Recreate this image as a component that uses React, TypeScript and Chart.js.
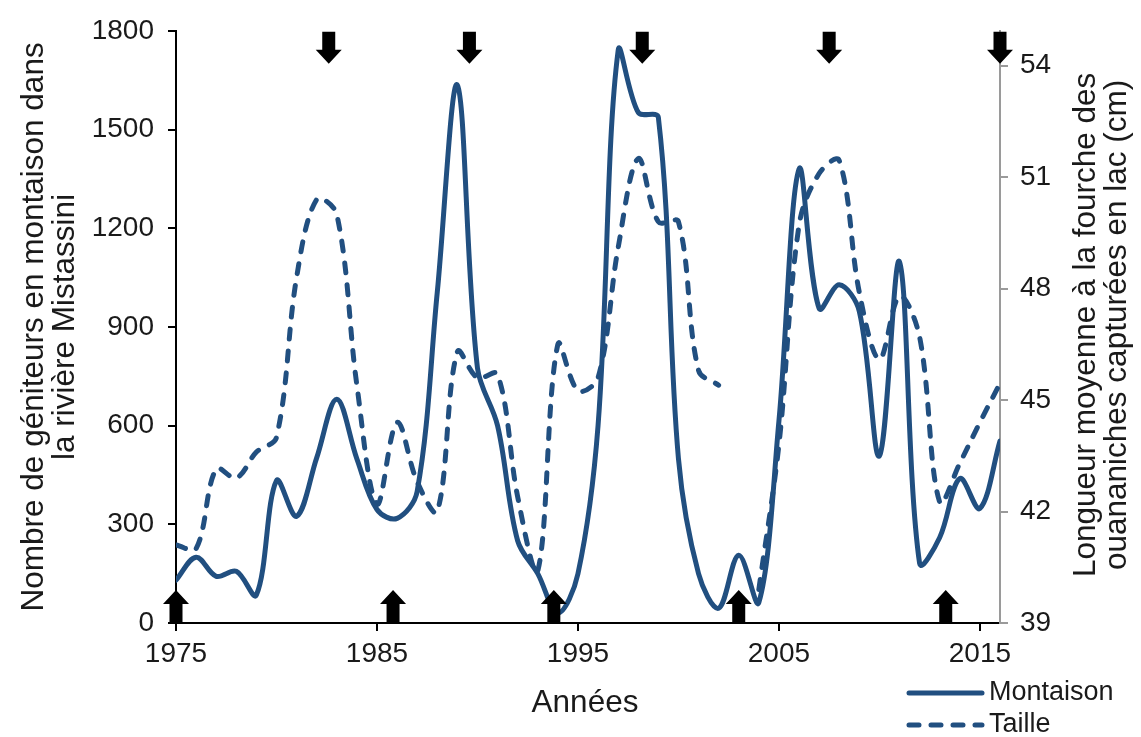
import React, { useEffect, useRef } from 'react';
import { Chart, registerables } from 'chart.js';

Chart.register(...registerables);

// ---------- data ----------
const years = [
  1975, 1976, 1977, 1978, 1979, 1980, 1981, 1982, 1983, 1984,
  1985, 1986, 1987, 1988, 1989, 1990, 1991, 1992, 1993, 1994,
  1995, 1996, 1997, 1998, 1999, 2000, 2001, 2002, 2003, 2004,
  2005, 2006, 2007, 2008, 2009, 2010, 2011, 2012, 2013, 2014,
  2015, 2016,
];

const montaison = [
  130, 200, 142, 157, 85, 433, 324, 502, 680, 499,
  345, 318, 400, 1005, 1635, 775, 600, 250, 150, 30,
  150, 600, 1740, 1552, 1537, 500, 150, 45, 206, 62,
  614, 1380, 956, 1028, 947, 508, 1098, 181, 260, 439,
  348, 553,
];

const taille = [
  41.1, 41.0, 43.15, 42.9, 43.6, 44.0, 48.3, 50.4, 50.0, 45.4,
  42.2, 44.4, 42.8, 42.0, 46.3, 45.6, 45.7, 42.4, 40.4, 46.5,
  45.25, 45.6, 49.1, 51.5, 49.8, 49.8, 45.8, 45.4, null, 39.9,
  43.8, 49.7, 51.1, 51.45, 47.9, 46.1, 47.8, 46.7, 42.25, 43.3,
  44.4, 45.45,
];

const xTickYears = [1975, 1985, 1995, 2005, 2015];
const leftTicks = [0, 300, 600, 900, 1200, 1500, 1800];
const rightTicks = [39, 42, 45, 48, 51, 54];
const upArrowYears = [1975, 1985.8, 1993.8, 2003, 2013.3];
const downArrowYears = [1982.6, 1989.6, 1998.2, 2007.5, 2016];

const seriesNames = ['Montaison', 'Taille'];
const leftTitle = ['Nombre de géniteurs en montaison dans', 'la rivière Mistassini'];
const rightTitle = ['Longueur moyenne à la fourche des', 'ouananiches capturées en lac (cm)'];
const xTitle = 'Années';

// ---------- styles ----------
const LINE_COLOR = '#214F80';
const TEXT_COLOR = '#1a1a1a';
const FONT = '"Liberation Sans", Arial, sans-serif';
const DASH = [10, 12];

function drawArrow(ctx: CanvasRenderingContext2D, x: number, base: number, dir: 1 | -1) {
  // dir = -1 : pointing up (base at bottom), dir = 1 : pointing down (base at top)
  const shaftW = 13;
  const shaftL = 18;
  const headW = 26;
  const headL = 14;
  ctx.beginPath();
  ctx.moveTo(x - shaftW / 2, base);
  ctx.lineTo(x - shaftW / 2, base + dir * shaftL);
  ctx.lineTo(x - headW / 2, base + dir * shaftL);
  ctx.lineTo(x, base + dir * (shaftL + headL));
  ctx.lineTo(x + headW / 2, base + dir * shaftL);
  ctx.lineTo(x + shaftW / 2, base + dir * shaftL);
  ctx.lineTo(x + shaftW / 2, base);
  ctx.closePath();
  ctx.fill();
}

const decorPlugin = {
  id: 'decor',
  afterDatasetsDraw(chart: any) {
    const { ctx, chartArea, scales } = chart;
    const xs = scales.x;
    ctx.save();
    ctx.fillStyle = '#000';
    upArrowYears.forEach((yr) => drawArrow(ctx, xs.getPixelForValue(yr), chartArea.bottom - 1, -1));
    downArrowYears.forEach((yr) => drawArrow(ctx, xs.getPixelForValue(yr), chartArea.top + 1, 1));
    ctx.restore();
  },
  afterDraw(chart: any) {
    const { ctx, chartArea } = chart;
    const midY = (chartArea.top + chartArea.bottom) / 2;
    const midX = (chartArea.left + chartArea.right) / 2;
    ctx.save();
    ctx.fillStyle = TEXT_COLOR;
    ctx.textAlign = 'center';
    ctx.textBaseline = 'middle';
    ctx.font = `31.5px ${FONT}`;
    // left title
    const leftX = [34, 65];
    leftTitle.forEach((t, i) => {
      ctx.save();
      ctx.translate(leftX[i], midY);
      ctx.rotate(-Math.PI / 2);
      ctx.fillText(t, 0, 0);
      ctx.restore();
    });
    // right title
    const rightX = [1086, 1117];
    rightTitle.forEach((t, i) => {
      ctx.save();
      ctx.translate(rightX[i], midY - 2);
      ctx.rotate(-Math.PI / 2);
      ctx.fillText(t, 0, 0);
      ctx.restore();
    });
    // x title
    ctx.fillText(xTitle, midX - 3, 703);

    // legend
    ctx.font = `27px ${FONT}`;
    ctx.textAlign = 'left';
    const rows = [693, 725];
    ctx.strokeStyle = LINE_COLOR;
    ctx.lineWidth = 5;
    ctx.lineCap = 'round';
    rows.forEach((y, i) => {
      ctx.beginPath();
      ctx.setLineDash(i === 0 ? [] : DASH);
      ctx.moveTo(909, y);
      ctx.lineTo(982, y);
      ctx.stroke();
      ctx.fillText(seriesNames[i], 989, y);
    });
    ctx.restore();
  },
};

export default function App() {
  const ref = useRef<HTMLCanvasElement>(null);

  useEffect(() => {
    document.body.style.margin = '0';
    const canvas = ref.current;
    if (!canvas) return;

    const tickFont = { family: FONT, size: 28 };

    const chart = new Chart(canvas, {
      type: 'line',
      data: {
        datasets: [
          {
            label: seriesNames[0],
            data: years.map((x, i) => ({ x, y: montaison[i] })),
            yAxisID: 'y',
            borderColor: LINE_COLOR,
            borderWidth: 5,
            pointRadius: 0,
            tension: 0.35,
            fill: false,
            borderCapStyle: 'round',
            borderJoinStyle: 'round',
          },
          {
            label: seriesNames[1],
            data: years.map((x, i) => ({ x, y: taille[i] })),
            yAxisID: 'y1',
            borderColor: LINE_COLOR,
            borderWidth: 5,
            borderDash: DASH,
            borderCapStyle: 'round',
            pointRadius: 0,
            tension: 0.35,
            fill: false,
            spanGaps: false,
          },
        ],
      },
      options: {
        responsive: false,
        animation: false,
        events: [],
        layout: { padding: { top: 28, left: 0, right: 0, bottom: 0 } },
        plugins: {
          legend: { display: false },
          tooltip: { enabled: false },
        },
        scales: {
          x: {
            type: 'linear',
            min: 1975,
            max: 2016,
            afterBuildTicks: (s: any) => {
              s.ticks = xTickYears.map((v) => ({ value: v }));
            },
            afterFit: (s: any) => {
              s.height = 114;
            },
            ticks: {
              font: { family: FONT, size: 28 },
              color: TEXT_COLOR,
              padding: 6,
              maxRotation: 0,
              autoSkip: false,
              callback: (v: any) => String(v),
            },
            grid: { drawOnChartArea: false, tickLength: 8, color: '#000', lineWidth: 2 },
            border: { display: true, color: '#000', width: 2 },
          },
          y: {
            type: 'linear',
            position: 'left',
            min: 0,
            max: 1800,
            afterBuildTicks: (s: any) => {
              s.ticks = leftTicks.map((v) => ({ value: v }));
            },
            afterFit: (s: any) => {
              s.width = 176;
            },
            ticks: {
              font: tickFont,
              color: TEXT_COLOR,
              padding: 14,
              callback: (v: any) => String(v),
            },
            grid: { drawOnChartArea: false, tickLength: 8, color: '#000', lineWidth: 2 },
            border: { display: true, color: '#000', width: 2 },
          },
          y1: {
            type: 'linear',
            position: 'right',
            min: 39,
            max: 54.94,
            afterBuildTicks: (s: any) => {
              s.ticks = rightTicks.map((v) => ({ value: v }));
            },
            afterFit: (s: any) => {
              s.width = 141;
            },
            ticks: {
              font: tickFont,
              color: TEXT_COLOR,
              padding: 12,
              callback: (v: any) => String(v),
            },
            grid: { drawOnChartArea: false, tickLength: 8, color: '#9a9a9a', lineWidth: 2 },
            border: { display: true, color: '#9a9a9a', width: 2 },
          },
        },
      },
      plugins: [decorPlugin],
    } as any);

    return () => chart.destroy();
  }, []);

  return (
    <div style={{ width: 1141, height: 737, background: '#fff' }}>
      <canvas ref={ref} width={1141} height={737} style={{ display: 'block' }} />
    </div>
  );
}
